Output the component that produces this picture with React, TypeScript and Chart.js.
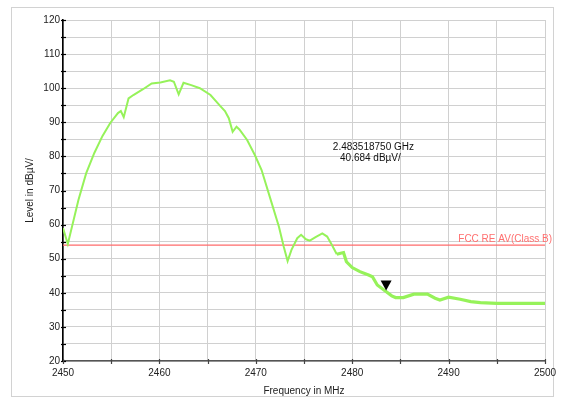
import React, { useEffect, useRef } from "react";
import { Chart, registerables } from "chart.js";

Chart.register(...registerables);

// ---- data ----
const freqMHz = [2450, 2450.5, 2451.6, 2452.4, 2453.25, 2454.1, 2454.9, 2455.7, 2456, 2456.3, 2456.8, 2457.3, 2458.3, 2459.2, 2460.1, 2461.1, 2461.5, 2462, 2462.5, 2463.3, 2464.2, 2465.3, 2466.3, 2466.8, 2467.2, 2467.6, 2468, 2468.3, 2469.1, 2469.9, 2470.6, 2471.5, 2472.4, 2472.9, 2473.3, 2473.7, 2474.3, 2474.7, 2475.2, 2475.6, 2476.2, 2476.9, 2477.4, 2477.9, 2478.4, 2478.8, 2479.1, 2479.4, 2480, 2480.8, 2481.7, 2482.1, 2482.6, 2483.4, 2484.1, 2484.5, 2485.3, 2486.4, 2487.8, 2488.6, 2489.1, 2490, 2491.2, 2492.3, 2493.3, 2495, 2496.8, 2498.5, 2500];
const levelDbuv = [59, 54.3, 67.2, 75, 81, 86, 89.8, 92.7, 93.3, 91.5, 97.0, 98, 99.7, 101.4, 101.7, 102.3, 101.9, 98.2, 101.6, 100.9, 100.0, 98.0, 94.8, 93.3, 91.2, 87.2, 88.7, 87.9, 84.8, 80.4, 76.0, 67.7, 59.4, 53.5, 49.3, 52.6, 56.0, 57.0, 55.7, 55.3, 56.3, 57.4, 56.5, 54.0, 51.3, 51.6, 51.8, 49.1, 47.4, 46.2, 45.2, 44.7, 42.3, 40.6, 39.1, 38.6, 38.6, 39.6, 39.6, 38.4, 37.9, 38.7, 38.1, 37.4, 37.1, 36.9, 36.9, 36.9, 36.9];
const limitFreq = [2450, 2500];
const limitLevel = [54, 54];
const limitLabel = "FCC RE AV(Class B)";
const markerFreq = [2483.51875];
const markerLevel = [40.684];
const markerText = ["2.483518750 GHz", "40.684 dBµV/"];
const xTitle = "Frequency in MHz";
const yTitle = "Level in dBµV/";
const xMin = 2450, xMax = 2500, xStep = 5;
const yMin = 20, yMax = 120, yStep = 5;

const FONT = "'Liberation Sans', Arial, sans-serif";

const decorPlugin = {
  id: "decor",
  beforeDraw(chart: any) {
    const ctx = chart.ctx;
    ctx.save();
    ctx.fillStyle = "#fff";
    ctx.fillRect(0, 0, chart.width, chart.height);
    ctx.strokeStyle = "#d2d2d2";
    ctx.lineWidth = 1;
    ctx.strokeRect(11.5, 7.5, 542, 389);
    ctx.restore();
  },
  afterDraw(chart: any) {
    const ctx = chart.ctx;
    const xs = chart.scales.x;
    const ys = chart.scales.y;
    const area = chart.chartArea;
    ctx.save();
    // crossing tick marks
    ctx.lineWidth = 1.2;
    ctx.strokeStyle = "#000";
    ys.ticks.forEach((t: any) => {
      const py = Math.round(ys.getPixelForValue(t.value)) + 0.5;
      ctx.beginPath();
      ctx.moveTo(area.left - 2, py);
      ctx.lineTo(area.left + 3, py);
      ctx.stroke();
    });
    ctx.strokeStyle = "#444";
    xs.ticks.forEach((t: any) => {
      const px = Math.round(xs.getPixelForValue(t.value)) + 0.5;
      ctx.beginPath();
      ctx.moveTo(px, area.bottom - 2);
      ctx.lineTo(px, area.bottom + 3);
      ctx.stroke();
    });
    // limit label
    ctx.font = `10px ${FONT}`;
    ctx.fillStyle = "#ff6f6f";
    ctx.textAlign = "right";
    ctx.textBaseline = "bottom";
    ctx.fillText(limitLabel, area.right + 7, ys.getPixelForValue(limitLevel[1]) - 1);
    // marker triangle
    const mx = xs.getPixelForValue(markerFreq[0]);
    const my = ys.getPixelForValue(markerLevel[0]);
    ctx.fillStyle = "#000";
    ctx.beginPath();
    ctx.moveTo(mx, my);
    ctx.lineTo(mx - 5.5, my - 10);
    ctx.lineTo(mx + 5.5, my - 10);
    ctx.closePath();
    ctx.fill();
    // marker text
    ctx.fillStyle = "#111";
    ctx.textAlign = "center";
    ctx.textBaseline = "middle";
    const tx = area.left + (area.right - area.left) * 0.644;
    const ty = area.top + (area.bottom - area.top) * 0.373;
    ctx.fillText(markerText[0], tx, ty);
    ctx.fillText(markerText[1], tx - 3, ty + 11);
    ctx.restore();
  },
};

export default function App() {
  const ref = useRef<HTMLCanvasElement>(null);
  useEffect(() => {
    if (!ref.current) return;
    const chart = new Chart(ref.current, {
      type: "line",
      data: {
        datasets: [
          {
            data: freqMHz.map((f, i) => ({ x: f, y: levelDbuv[i] })),
            borderColor: "#96f25a",
            borderWidth: 2,
            pointRadius: 0,
            tension: 0,
            segment: {
              borderWidth: (c: any) => (c.p0.parsed.x >= 2478 ? 3.2 : 2),
            },
            order: 0,
          },
          {
            data: limitFreq.map((f, i) => ({ x: f, y: limitLevel[i] })),
            borderColor: "#ff6b6b",
            borderWidth: 1.2,
            pointRadius: 0,
            order: 1,
          },
        ],
      },
      plugins: [decorPlugin],
      options: {
        animation: false,
        responsive: false,
        devicePixelRatio: 1,
        events: [],
        layout: { padding: { left: 0, top: 20, right: 21, bottom: 0 } },
        plugins: { legend: { display: false }, tooltip: { enabled: false } },
        scales: {
          x: {
            type: "linear",
            min: xMin,
            max: xMax,
            afterFit: (s: any) => { s.height = 38; },
            ticks: {
              stepSize: xStep,
              autoSkip: false,
              maxRotation: 0,
              padding: 6,
              color: "#222",
              font: { family: FONT, size: 10 },
              callback: (v: any) => (Number(v) % 10 === 0 ? String(v) : ""),
            },
            grid: { color: "#d0d0d0", lineWidth: 1, drawTicks: false },
            border: { color: "#555", width: 1.5 },
            title: {
              display: true,
              text: xTitle,
              color: "#222",
              font: { family: FONT, size: 10 },
              padding: { top: 0, bottom: 2 },
            },
          },
          y: {
            type: "linear",
            min: yMin,
            max: yMax,
            afterFit: (s: any) => { s.width = 63; },
            ticks: {
              stepSize: yStep,
              autoSkip: false,
              padding: 3,
              color: "#222",
              font: { family: FONT, size: 10 },
              callback: (v: any) => (Number(v) % 10 === 0 ? String(v) : ""),
            },
            grid: { color: "#d0d0d0", lineWidth: 1, drawTicks: false },
            border: { color: "#000", width: 1.6 },
            title: {
              display: true,
              text: yTitle,
              color: "#222",
              font: { family: FONT, size: 10 },
              padding: { top: 24, bottom: 0 },
            },
          },
        },
      },
    } as any);
    return () => chart.destroy();
  }, []);
  return (
    <div style={{ position: "absolute", left: 0, top: 0, width: 566, height: 399, background: "#fff" }}>
      <canvas ref={ref} width={566} height={399} style={{ display: "block" }} />
    </div>
  );
}
